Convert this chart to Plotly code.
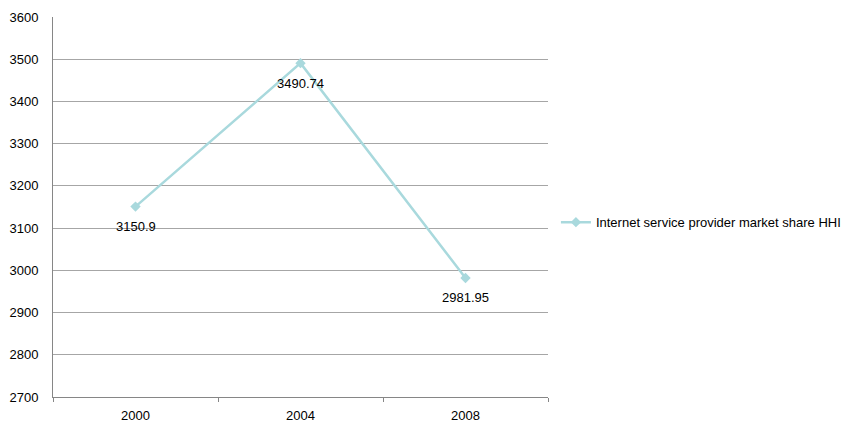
import plotly.graph_objects as go

years = ["2000", "2004", "2008"]
hhi = [3150.9, 3490.74, 2981.95]
series_name = "Internet service provider market share HHI"
y_ticks = [2700, 2800, 2900, 3000, 3100, 3200, 3300, 3400, 3500, 3600]

line_color = "#A9D9DD"
grid_color = "#A6A6A6"
axis_color = "#868686"
font = dict(family="Liberation Sans, Arial, sans-serif", size=13, color="#000000")

fig = go.Figure()
fig.add_trace(go.Scatter(
    x=years,
    y=hhi,
    name=series_name,
    mode="lines+markers",
    line=dict(color=line_color, width=2.5),
    marker=dict(symbol="diamond", size=8, color=line_color),
    cliponaxis=False,
))

# value labels placed just below each point (category axis -> serial index)
for i, v in enumerate(hhi):
    fig.add_annotation(
        x=i, y=v, xref="x", yref="y", text=f"{v:g}", showarrow=False,
        yanchor="middle", yshift=-20, font=font,
    )

fig.update_layout(
    width=850,
    height=425,
    margin=dict(l=53, r=302, t=17, b=28, autoexpand=False),
    paper_bgcolor="white",
    plot_bgcolor="white",
    font=font,
    showlegend=True,
    legend=dict(
        x=1.016, y=0.46, xanchor="left", yanchor="middle",
        font=font, bgcolor="rgba(0,0,0,0)",
        itemwidth=30,
    ),
    xaxis=dict(
        type="category",
        range=[-0.5, 2.5],
        tickson="boundaries",
        ticks="outside",
        ticklen=4,
        tickcolor=axis_color,
        showline=True,
        linecolor=axis_color,
        linewidth=1,
        showgrid=False,
        tickfont=font,
        ticklabelstandoff=6,
        automargin=False,
        fixedrange=True,
    ),
    yaxis=dict(
        range=[2700, 3600],
        tickvals=y_ticks,
        showline=True,
        linecolor=axis_color,
        linewidth=1,
        showgrid=True,
        gridcolor=grid_color,
        gridwidth=1,
        zeroline=False,
        ticks="",
        ticklabelstandoff=11,
        tickfont=font,
        automargin=False,
        fixedrange=True,
    ),
)

fig.write_html("out.html")
